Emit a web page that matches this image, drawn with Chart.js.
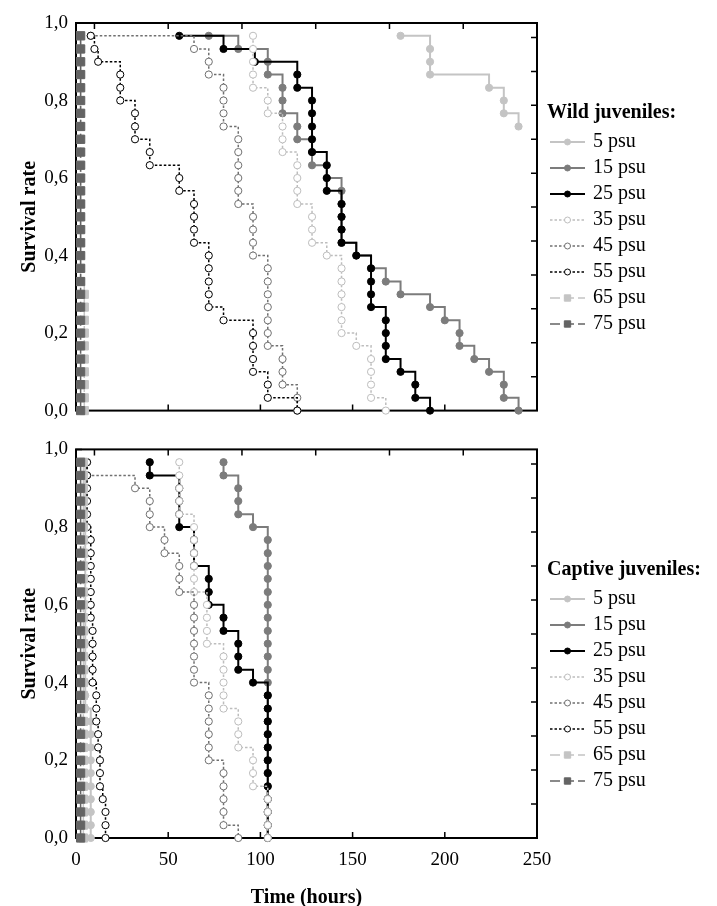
<!DOCTYPE html>
<html>
<head>
<meta charset="utf-8">
<script src="https://cdn.jsdelivr.net/npm/chart.js@4.4.1/dist/chart.umd.min.js"></script>
<style>
  body { margin: 0; background: #fff; }
  #wrap { position: relative; width: 717px; height: 906px; }
  canvas { position: absolute; left: 0; }
</style>
</head>
<body>
<div id="wrap">
  <canvas id="wildChart" width="717" height="430" style="top:0"></canvas>
  <canvas id="captiveChart" width="717" height="476" style="top:430px"></canvas>
</div>
<script>
// salinity groups (legend labels)
const salinities = ['5 psu', '15 psu', '25 psu', '35 psu', '45 psu', '55 psu', '65 psu', '75 psu'];

// [time (hours), survival rate] - wild juveniles
const wild5 = [[176,0.967],[192,0.933],[192,0.9],[192,0.867],[224,0.833],[232,0.8],[232,0.767],[240,0.733]];
const wild15 = [[72,0.967],[88,0.933],[104,0.9],[104,0.867],[112,0.833],[112,0.8],[112,0.767],[120,0.733],[120,0.7],[128,0.667],[128,0.633],[136,0.6],[144,0.567],[144,0.533],[144,0.5],[144,0.467],[144,0.433],[152,0.4],[160,0.367],[168,0.333],[176,0.3],[192,0.267],[200,0.233],[208,0.2],[208,0.167],[216,0.133],[224,0.1],[232,0.067],[232,0.033],[240,0]];
const wild25 = [[56,0.967],[80,0.933],[97,0.9],[120,0.867],[120,0.833],[128,0.8],[128,0.767],[128,0.733],[128,0.7],[128,0.667],[136,0.633],[136,0.6],[136,0.567],[144,0.533],[144,0.5],[144,0.467],[144,0.433],[152,0.4],[160,0.367],[160,0.333],[160,0.3],[160,0.267],[168,0.233],[168,0.2],[168,0.167],[168,0.133],[176,0.1],[184,0.067],[184,0.033],[192,0]];
const wild35 = [[96,0.967],[96,0.933],[96,0.9],[96,0.867],[96,0.833],[104,0.8],[104,0.767],[112,0.733],[112,0.7],[112,0.667],[120,0.633],[120,0.6],[120,0.567],[120,0.533],[128,0.5],[128,0.467],[128,0.433],[136,0.4],[144,0.367],[144,0.333],[144,0.3],[144,0.267],[144,0.233],[144,0.2],[152,0.167],[160,0.133],[160,0.1],[160,0.067],[160,0.033],[168,0]];
const wild45 = [[8,0.967],[64,0.933],[72,0.9],[72,0.867],[80,0.833],[80,0.8],[80,0.767],[80,0.733],[88,0.7],[88,0.667],[88,0.633],[88,0.6],[88,0.567],[88,0.533],[96,0.5],[96,0.467],[96,0.433],[96,0.4],[104,0.367],[104,0.333],[104,0.3],[104,0.267],[104,0.233],[104,0.2],[104,0.167],[112,0.133],[112,0.1],[112,0.067],[120,0.033],[120,0]];
const wild55 = [[8,0.967],[10,0.933],[12,0.9],[24,0.867],[24,0.833],[24,0.8],[32,0.767],[32,0.733],[32,0.7],[40,0.667],[40,0.633],[56,0.6],[56,0.567],[64,0.533],[64,0.5],[64,0.467],[64,0.433],[72,0.4],[72,0.367],[72,0.333],[72,0.3],[72,0.267],[80,0.233],[96,0.2],[96,0.167],[96,0.133],[96,0.1],[104,0.067],[104,0.033],[120,0]];
const wild65 = [[2.5,0.967],[2.5,0.933],[2.5,0.9],[2.5,0.867],[2.5,0.833],[2.5,0.8],[2.5,0.767],[2.5,0.733],[2.5,0.7],[2.5,0.667],[2.5,0.633],[2.5,0.6],[2.5,0.567],[2.5,0.533],[2.5,0.5],[2.5,0.467],[2.5,0.433],[2.5,0.4],[2.5,0.367],[2.5,0.333],[4.5,0.3],[4.5,0.267],[4.5,0.233],[4.5,0.2],[4.5,0.167],[4.5,0.133],[4.5,0.1],[4.5,0.067],[4.5,0.033],[4.5,0]];
const wild75 = [[2.5,0.967],[2.5,0.933],[2.5,0.9],[2.5,0.867],[2.5,0.833],[2.5,0.8],[2.5,0.767],[2.5,0.733],[2.5,0.7],[2.5,0.667],[2.5,0.633],[2.5,0.6],[2.5,0.567],[2.5,0.533],[2.5,0.5],[2.5,0.467],[2.5,0.433],[2.5,0.4],[2.5,0.367],[2.5,0.333],[2.5,0.3],[2.5,0.267],[2.5,0.233],[2.5,0.2],[2.5,0.167],[2.5,0.133],[2.5,0.1],[2.5,0.067],[2.5,0.033],[2.5,0]];

// captive juveniles
const cap5 = [[5,0.967],[5,0.933],[5,0.9],[5,0.867],[5,0.833],[5,0.8],[5,0.767],[5,0.733],[5,0.7],[5,0.667],[5,0.633],[5,0.6],[5,0.567],[5,0.533],[5,0.5],[5,0.467],[5,0.433],[5,0.4],[5,0.367],[5,0.333],[8,0.3],[8,0.267],[8,0.233],[8,0.2],[8,0.167],[8,0.133],[8,0.1],[8,0.067],[8,0.033],[8,0]];
const cap15 = [[80,0.967],[80,0.933],[88,0.9],[88,0.867],[88,0.833],[96,0.8],[104,0.767],[104,0.733],[104,0.7],[104,0.667],[104,0.633],[104,0.6],[104,0.567],[104,0.533],[104,0.5],[104,0.467],[104,0.433],[104,0.4],[104,0.367],[104,0.333],[104,0.3],[104,0.267],[104,0.233],[104,0.2],[104,0.167],[104,0.133],[104,0.1],[104,0.067],[104,0.033],[104,0]];
const cap25 = [[40,0.967],[40,0.933],[56,0.9],[56,0.867],[56,0.833],[56,0.8],[64,0.767],[64,0.733],[64,0.7],[72,0.667],[72,0.633],[72,0.6],[80,0.567],[80,0.533],[88,0.5],[88,0.467],[88,0.433],[96,0.4],[104,0.367],[104,0.333],[104,0.3],[104,0.267],[104,0.233],[104,0.2],[104,0.167],[104,0.133],[104,0.1],[104,0.067],[104,0.033],[104,0]];
const cap35 = [[56,0.967],[56,0.933],[56,0.9],[56,0.867],[56,0.833],[64,0.8],[64,0.767],[64,0.733],[64,0.7],[64,0.667],[64,0.633],[71,0.6],[71,0.567],[71,0.533],[71,0.5],[80,0.467],[80,0.433],[80,0.4],[80,0.367],[80,0.333],[88,0.3],[88,0.267],[88,0.233],[96,0.2],[96,0.167],[96,0.133],[104,0.1],[104,0.067],[104,0.033],[104,0]];
const cap45 = [[6,0.967],[6,0.933],[32,0.9],[40,0.867],[40,0.833],[40,0.8],[48,0.767],[48,0.733],[56,0.7],[56,0.667],[56,0.633],[64,0.6],[64,0.567],[64,0.533],[64,0.5],[64,0.467],[64,0.433],[64,0.4],[72,0.367],[72,0.333],[72,0.3],[72,0.267],[72,0.233],[72,0.2],[80,0.167],[80,0.133],[80,0.1],[80,0.067],[80,0.033],[88,0]];
const cap55 = [[6,0.967],[6,0.933],[6,0.9],[6,0.867],[6,0.833],[6,0.8],[8,0.767],[8,0.733],[8,0.7],[8,0.667],[8,0.633],[8,0.6],[8,0.567],[9,0.533],[9,0.5],[9,0.467],[9,0.433],[9,0.4],[11,0.367],[11,0.333],[11,0.3],[12,0.267],[12,0.233],[13,0.2],[13,0.167],[13,0.133],[14.5,0.1],[16,0.067],[16,0.033],[16,0]];
const cap65 = [[4,0.967],[4,0.933],[4,0.9],[4,0.867],[4,0.833],[4,0.8],[4,0.767],[4,0.733],[4,0.7],[4,0.667],[4,0.633],[4,0.6],[4,0.567],[4,0.533],[4,0.5],[4,0.467],[4,0.433],[4,0.4],[4,0.367],[4,0.333],[4,0.3],[4,0.267],[4,0.233],[4,0.2],[4,0.167],[4,0.133],[4,0.1],[4,0.067],[4,0.033],[4,0]];
const cap75 = [[2.5,0.967],[2.5,0.933],[2.5,0.9],[2.5,0.867],[2.5,0.833],[2.5,0.8],[2.5,0.767],[2.5,0.733],[2.5,0.7],[2.5,0.667],[2.5,0.633],[2.5,0.6],[2.5,0.567],[2.5,0.533],[2.5,0.5],[2.5,0.467],[2.5,0.433],[2.5,0.4],[2.5,0.367],[2.5,0.333],[2.5,0.3],[2.5,0.267],[2.5,0.233],[2.5,0.2],[2.5,0.167],[2.5,0.133],[2.5,0.1],[2.5,0.067],[2.5,0.033],[2.5,0]];

// minor tick marks on the top and right frame edges
const topTicks = [10, 50, 90, 130, 170, 210];
const rightTicks = [0.0875, 0.175, 0.2625, 0.35, 0.4375, 0.525, 0.6125, 0.7, 0.7875, 0.875, 0.9625];

const FONT = "'Liberation Serif', 'Times New Roman', serif";
Chart.defaults.font.family = FONT;
Chart.defaults.color = '#000';

const seriesStyle = [
  { color: '#c4c4c4', open: false, shape: 'circle', dash: [], width: 2 },
  { color: '#7c7c7c', open: false, shape: 'circle', dash: [], width: 2 },
  { color: '#000000', open: false, shape: 'circle', dash: [], width: 2 },
  { color: '#bdbdbd', open: true, shape: 'circle', dash: [2.5, 2], width: 1.5 },
  { color: '#707070', open: true, shape: 'circle', dash: [2.5, 2], width: 1.5 },
  { color: '#000000', open: true, shape: 'circle', dash: [2.5, 2], width: 1.5 },
  { color: '#c4c4c4', open: false, shape: 'rect', dash: [10, 4], width: 1.5 },
  { color: '#646464', open: false, shape: 'rect', dash: [10, 4], width: 1.5 }
];

function makeDatasets(series) {
  return series.map((pts, i) => {
    const st = seriesStyle[i];
    return {
      label: salinities[i],
      data: pts.map(p => ({ x: p[0], y: p[1] })),
      stepped: true,
      borderColor: st.color,
      borderWidth: st.width,
      borderDash: st.dash,
      pointStyle: st.shape,
      pointRadius: st.shape === 'rect' ? 5.8 : 3.6,
      pointBackgroundColor: st.open ? '#ffffff' : st.color,
      pointBorderColor: st.color,
      pointBorderWidth: 1,
      pointHoverRadius: 0,
      fill: false,
      clip: false,
      order: -i
    };
  });
}

const framePlugin = {
  id: 'frame',
  beforeDatasetsDraw(chart) {
    const { ctx, chartArea: a, scales: { x, y } } = chart;
    ctx.save();
    ctx.strokeStyle = '#000';
    ctx.lineWidth = 2;
    ctx.strokeRect(a.left, a.top, a.right - a.left, a.bottom - a.top);
    ctx.lineWidth = 1.5;
    ctx.beginPath();
    x.ticks.forEach(t => {
      const px = x.getPixelForValue(t.value);
      ctx.moveTo(px, a.bottom); ctx.lineTo(px, a.bottom - 6);
    });
    y.ticks.forEach(t => {
      const py = y.getPixelForValue(t.value);
      ctx.moveTo(a.left, py); ctx.lineTo(a.left + 6, py);
    });
    topTicks.forEach(v => {
      const px = x.getPixelForValue(v);
      ctx.moveTo(px, a.top); ctx.lineTo(px, a.top + 6);
    });
    rightTicks.forEach(v => {
      const py = y.getPixelForValue(v);
      ctx.moveTo(a.right, py); ctx.lineTo(a.right - 6, py);
    });
    ctx.stroke();
    ctx.restore();
  }
};

const sideLegend = {
  id: 'sideLegend',
  afterDraw(chart, args, opts) {
    const ctx = chart.ctx;
    ctx.save();
    ctx.textBaseline = 'middle';
    ctx.textAlign = 'left';
    ctx.fillStyle = '#000';
    ctx.font = 'bold 20px ' + FONT;
    ctx.fillText(opts.title, 547, opts.top);
    chart.data.datasets.forEach((ds, i) => {
      const yy = opts.top + 29 + i * 26;
      ctx.strokeStyle = ds.borderColor;
      ctx.lineWidth = ds.borderWidth;
      ctx.setLineDash(ds.borderDash);
      ctx.beginPath();
      ctx.moveTo(550, yy);
      ctx.lineTo(585, yy);
      ctx.stroke();
      ctx.setLineDash([]);
      ctx.fillStyle = ds.pointBackgroundColor;
      ctx.strokeStyle = ds.pointBorderColor;
      ctx.lineWidth = 1;
      Chart.helpers.drawPoint(ctx, {
        pointStyle: ds.pointStyle,
        radius: ds.pointStyle === 'rect' ? 4.5 : 3,
        rotation: 0,
        borderWidth: 1
      }, 567.5, yy);
      ctx.fillStyle = '#000';
      ctx.font = '20px ' + FONT;
      ctx.fillText(ds.label, 593, yy);
    });
    ctx.restore();
  }
};

function makeChart(canvasId, series, legendTitle, legendTop, padTop, xHeight, showX) {
  return new Chart(document.getElementById(canvasId), {
    type: 'line',
    data: { datasets: makeDatasets(series) },
    plugins: [framePlugin, sideLegend],
    options: {
      responsive: false,
      animation: false,
      devicePixelRatio: 1,
      layout: { padding: { top: padTop, right: 180, bottom: 0, left: 0 } },
      plugins: {
        legend: { display: false },
        tooltip: { enabled: false },
        sideLegend: { title: legendTitle, top: legendTop }
      },
      scales: {
        x: {
          type: 'linear',
          min: 0,
          max: 250,
          grid: { display: false, drawTicks: false },
          border: { display: false },
          ticks: {
            display: showX,
            stepSize: 50,
            padding: 11,
            maxRotation: 0,
            font: { size: 19 }
          },
          title: {
            display: showX,
            text: 'Time (hours)',
            font: { size: 20, weight: 'bold', lineHeight: 1 },
            padding: { top: 0, bottom: -2 }
          },
          afterFit: s => { s.height = xHeight; }
        },
        y: {
          min: 0,
          max: 1,
          grid: { display: false, drawTicks: false },
          border: { display: false },
          ticks: {
            stepSize: 0.2,
            padding: 8,
            font: { size: 19 },
            callback: v => v.toFixed(1).replace('.', ',')
          },
          title: {
            display: true,
            text: 'Survival rate',
            font: { size: 20, weight: 'bold' },
            padding: { top: 18, bottom: 0 }
          },
          afterFit: s => { s.width = 76; }
        }
      }
    }
  });
}

makeChart('wildChart',
  [wild5, wild15, wild25, wild35, wild45, wild55, wild65, wild75],
  'Wild juveniles:', 113, 23, 18, false);

makeChart('captiveChart',
  [cap5, cap15, cap25, cap35, cap45, cap55, cap65, cap75],
  'Captive juveniles:', 140, 18, 68, true);
</script>
</body>
</html>
